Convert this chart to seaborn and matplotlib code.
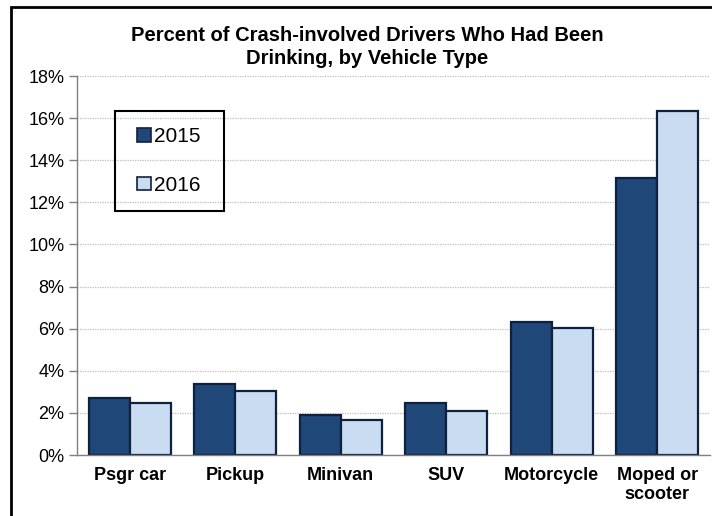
import numpy as np
import pandas as pd
import matplotlib
matplotlib.use("Agg")
import matplotlib.pyplot as plt
import seaborn as sns
from matplotlib.patches import Rectangle, Patch
from matplotlib.ticker import FixedLocator

# Datos
categorias = ["Psgr car", "Pickup", "Minivan", "SUV", "Motorcycle", "Moped or\nscooter"]
anios = ["2015", "2016"]
valores_2015 = [2.7, 3.35, 1.9, 2.45, 6.3, 13.15]
valores_2016 = [2.45, 3.05, 1.65, 2.1, 6.05, 16.35]
ticks_y = [0, 2, 4, 6, 8, 10, 12, 14, 16, 18]

COLOR_OSCURO = "#1f4778"
COLOR_CLARO = "#cadcf2"
BORDE = "#0e213d"

df = pd.DataFrame({
    "vehiculo": categorias * 2,
    "anio": [anios[0]] * len(categorias) + [anios[1]] * len(categorias),
    "pct": valores_2015 + valores_2016,
})

sns.set_style("white")
plt.rcParams["font.family"] = ["Liberation Sans", "DejaVu Sans"]
plt.rcParams["text.color"] = "black"
plt.rcParams["xtick.labelcolor"] = "black"
plt.rcParams["ytick.labelcolor"] = "black"

W, H = 712, 516
fig = plt.figure(figsize=(W / 100, H / 100), dpi=100)
ax = fig.add_axes([77 / W, 1 - 455 / H, (710 - 77) / W, (455 - 76) / H])

sns.barplot(data=df, x="vehiculo", y="pct", hue="anio", order=categorias,
            hue_order=anios, palette=[COLOR_OSCURO, COLOR_CLARO], width=0.78,
            edgecolor=BORDE, linewidth=1.6, saturation=1, legend=False, ax=ax)

ax.set_xlim(-0.5, len(categorias) - 0.5)
ax.set_ylim(0, 18)
ax.yaxis.set_major_locator(FixedLocator(ticks_y))
ax.set_yticklabels([f"{t}%" for t in ticks_y], fontsize=13)
ax.yaxis.grid(True, color="#bdbdbd", linestyle=(0, (1, 1)), linewidth=0.9)
ax.set_axisbelow(True)
ax.set_xlabel("")
ax.set_ylabel("")

ax.set_xticks(range(len(categorias)))
ax.set_xticklabels(categorias, fontsize=13, fontweight="bold", linespacing=1.15)
ax.xaxis.set_minor_locator(FixedLocator(np.arange(-0.5, len(categorias), 1)))
ax.tick_params(axis="x", which="major", length=0, pad=9)
ax.tick_params(axis="x", which="minor", length=5, width=1, color="#808080", direction="out")
ax.tick_params(axis="y", length=6, width=1, color="#808080", direction="out", pad=3, left=True)

for s in ["top", "right"]:
    ax.spines[s].set_visible(False)
for s in ["left", "bottom"]:
    ax.spines[s].set_color("#808080")
    ax.spines[s].set_linewidth(1)

# Título
fig.text(367 / W, 1 - 47 / H,
         "Percent of Crash-involved Drivers Who Had Been\nDrinking, by Vehicle Type",
         ha="center", va="center", fontsize=14.5, fontweight="bold", linespacing=1.3)

# Leyenda dentro de un recuadro propio
fig.add_artist(Rectangle((115 / W, 1 - 210.7 / H), 109 / W, 100 / H,
                         transform=fig.transFigure, fill=False, edgecolor="black",
                         linewidth=1.5))
handles = [Patch(facecolor=COLOR_OSCURO, edgecolor=BORDE, linewidth=1.2),
           Patch(facecolor=COLOR_CLARO, edgecolor=BORDE, linewidth=1.2)]
fig.legend(handles, anios, loc="center left",
           bbox_to_anchor=(127 / W, 1 - 161 / H), bbox_transform=fig.transFigure,
           frameon=False, fontsize=15, handlelength=0.65, handleheight=0.65,
           handletextpad=0.15, labelspacing=1.42, borderpad=0)

# Marco exterior
fig.add_artist(Rectangle((11 / W, -0.02), 1.2, 1 - 7 / H + 0.02,
                         transform=fig.transFigure, fill=False, edgecolor="black",
                         linewidth=2))

plt.savefig("out.png", dpi=100)
plt.close()
